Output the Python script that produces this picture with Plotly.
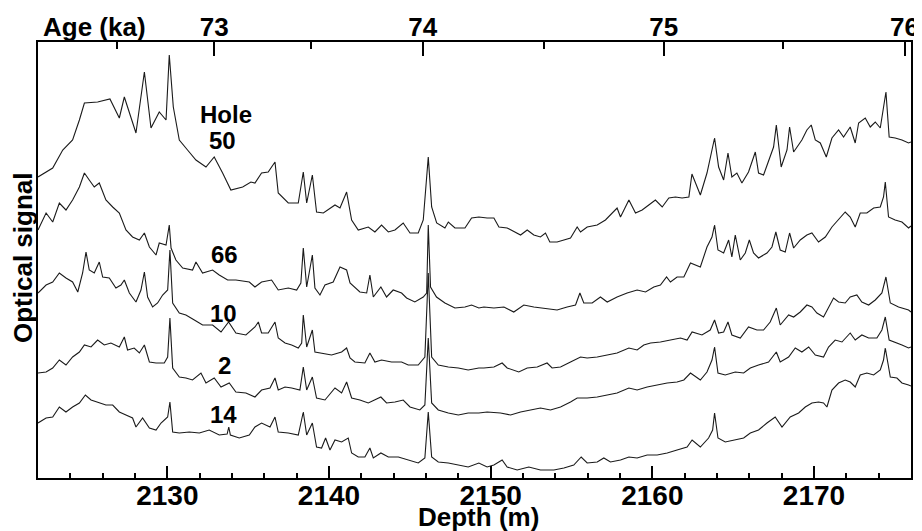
import plotly.graph_objects as go

# ---------------- data ----------------
# optical signal in arbitrary units (stacked, as displayed)
depth_50 = [2122.0, 2122.91, 2123.53, 2124.14, 2124.56, 2124.87, 2125.69, 2126.45, 2127.03, 2127.34,
            2128.06, 2128.58, 2128.99, 2129.50, 2129.92, 2130.12, 2130.37, 2130.74, 2131.25, 2131.77,
            2132.39, 2132.90, 2133.42, 2133.93, 2134.66, 2135.17, 2135.42, 2135.83, 2136.24, 2136.66,
            2136.86, 2137.48, 2138.10, 2138.41, 2138.62, 2138.97, 2139.23, 2139.65, 2140.37, 2140.68,
            2141.09, 2141.40, 2141.81, 2142.43, 2142.84, 2143.25, 2143.67, 2144.08, 2144.59, 2145.01,
            2145.52, 2145.83, 2146.14, 2146.35, 2146.66, 2147.17, 2147.38, 2147.79, 2148.41, 2148.82,
            2149.27, 2149.78, 2150.20, 2150.51, 2151.02, 2151.54, 2151.85, 2152.26, 2152.67, 2153.08,
            2153.39, 2153.66, 2154.11, 2154.53, 2154.94, 2155.35, 2155.56, 2155.97, 2156.59, 2157.10,
            2157.41, 2157.82, 2158.03, 2158.55, 2158.96, 2159.37, 2159.78, 2160.19, 2160.61, 2161.02,
            2161.43, 2161.84, 2162.26, 2162.45, 2162.97, 2163.38, 2163.85, 2164.10, 2164.41, 2164.68,
            2164.92, 2165.23, 2165.54, 2165.95, 2166.37, 2166.57, 2166.88, 2167.19, 2167.50, 2167.67,
            2167.97, 2168.33, 2168.49, 2168.74, 2169.25, 2169.56, 2169.83, 2170.08, 2170.39, 2170.76,
            2171.11, 2171.52, 2171.83, 2172.24, 2172.55, 2172.76, 2173.17, 2173.48, 2173.79, 2174.10,
            2174.30, 2174.45, 2174.65, 2175.02, 2175.44, 2175.85, 2176.0]
signal_50 = [301, 310, 328, 338, 358, 375, 376, 379, 360, 381,
             345, 406, 350, 366, 358, 423, 371, 338, 328, 318,
             311, 321, 305, 288, 291, 296, 295, 305, 306, 316,
             285, 275, 275, 306, 275, 303, 266, 265, 273, 270,
             286, 258, 248, 251, 246, 253, 246, 248, 255, 245,
             245, 258, 321, 271, 255, 250, 256, 250, 250, 260,
             261, 260, 260, 251, 250, 246, 243, 248, 243, 241,
             245, 236, 236, 238, 240, 251, 246, 251, 253, 258,
             263, 270, 261, 278, 265, 268, 273, 278, 271, 280,
             281, 280, 281, 304, 283, 305, 340, 311, 298, 325,
             301, 305, 295, 306, 326, 305, 303, 318, 331, 353,
             311, 328, 351, 326, 338, 348, 353, 338, 335, 321,
             340, 348, 341, 351, 335, 355, 360, 351, 356, 350,
             371, 386, 341, 340, 338, 335, 336]

depth_66 = [2122.0, 2122.5, 2122.91, 2123.32, 2123.73, 2124.14, 2124.56, 2124.87, 2125.17, 2125.48,
            2125.79, 2126.20, 2126.62, 2127.03, 2127.44, 2127.85, 2128.27, 2128.58, 2128.89, 2129.30,
            2129.50, 2129.92, 2130.12, 2130.23, 2130.53, 2130.95, 2131.56, 2131.77, 2132.18, 2132.80,
            2133.21, 2133.73, 2134.24, 2135.07, 2135.42, 2135.83, 2136.45, 2136.86, 2137.48, 2138.00,
            2138.26, 2138.41, 2138.62, 2138.97, 2139.13, 2139.44, 2139.75, 2140.26, 2140.68, 2141.09,
            2141.30, 2141.60, 2141.91, 2142.33, 2142.53, 2142.74, 2143.21, 2143.56, 2143.97, 2144.49,
            2144.80, 2145.31, 2145.83, 2146.04, 2146.14, 2146.28, 2146.65, 2147.17, 2147.79, 2148.41,
            2148.82, 2149.27, 2149.58, 2150.20, 2150.82, 2151.43, 2152.05, 2152.67, 2153.29, 2154.11,
            2154.73, 2155.25, 2155.52, 2155.76, 2156.28, 2156.79, 2157.21, 2157.82, 2158.44, 2159.06,
            2159.58, 2160.09, 2160.50, 2160.88, 2161.12, 2161.53, 2161.95, 2162.36, 2162.97, 2163.38,
            2163.69, 2163.85, 2164.06, 2164.41, 2164.72, 2164.92, 2165.13, 2165.44, 2165.75, 2166.00,
            2166.26, 2166.57, 2167.09, 2167.40, 2167.64, 2167.91, 2168.22, 2168.49, 2168.74, 2169.15,
            2169.56, 2169.87, 2170.28, 2170.70, 2171.11, 2171.52, 2171.93, 2172.24, 2172.55, 2172.86,
            2173.27, 2173.69, 2174.10, 2174.30, 2174.41, 2174.61, 2175.02, 2175.44, 2175.85, 2176.0]
signal_66 = [248, 265, 256, 275, 268, 278, 291, 305, 298, 291,
             295, 278, 271, 265, 248, 241, 238, 245, 231, 223,
             235, 233, 253, 230, 218, 210, 208, 216, 205, 208,
             203, 198, 198, 196, 191, 196, 198, 188, 190, 188,
             195, 230, 191, 223, 190, 183, 193, 196, 211, 208,
             195, 191, 186, 185, 203, 181, 191, 181, 188, 185,
             180, 176, 181, 185, 253, 191, 181, 175, 170, 171,
             173, 170, 171, 170, 171, 166, 173, 171, 170, 168,
             171, 173, 185, 175, 175, 181, 176, 181, 185, 188,
             186, 191, 193, 201, 196, 201, 201, 215, 211, 231,
             241, 253, 228, 225, 238, 221, 243, 218, 225, 238,
             225, 220, 225, 231, 246, 228, 226, 245, 230, 238,
             243, 245, 236, 241, 251, 258, 266, 261, 251, 265,
             265, 270, 271, 281, 296, 261, 258, 256, 250, 252]

depth_10 = [2122.0, 2122.5, 2122.91, 2123.32, 2123.73, 2124.14, 2124.46, 2124.76, 2124.97, 2125.17,
            2125.48, 2125.79, 2126.00, 2126.41, 2126.82, 2127.13, 2127.34, 2127.65, 2128.06, 2128.37,
            2128.58, 2128.78, 2129.09, 2129.40, 2129.71, 2130.02, 2130.16, 2130.33, 2130.74, 2131.15,
            2131.67, 2132.18, 2132.80, 2133.32, 2133.79, 2134.24, 2134.86, 2135.42, 2135.63, 2135.83,
            2136.24, 2136.66, 2136.86, 2137.28, 2137.69, 2138.10, 2138.31, 2138.41, 2138.62, 2138.97,
            2139.13, 2139.54, 2140.16, 2140.78, 2141.09, 2141.30, 2141.60, 2142.22, 2142.53, 2142.84,
            2143.25, 2143.87, 2144.49, 2144.90, 2145.52, 2145.93, 2146.14, 2146.35, 2146.76, 2147.38,
            2148.00, 2148.61, 2149.27, 2149.58, 2150.20, 2150.71, 2151.02, 2151.74, 2152.26, 2152.88,
            2153.49, 2153.80, 2154.32, 2154.94, 2155.56, 2155.97, 2156.59, 2157.21, 2157.82, 2158.55,
            2159.06, 2159.47, 2159.89, 2160.50, 2161.12, 2161.74, 2162.15, 2162.46, 2163.07, 2163.58,
            2163.85, 2164.10, 2164.41, 2164.68, 2164.92, 2165.44, 2165.95, 2166.47, 2166.88, 2167.29,
            2167.67, 2167.91, 2168.43, 2168.74, 2169.15, 2169.56, 2169.87, 2170.18, 2170.59, 2170.90,
            2171.21, 2171.52, 2171.93, 2172.24, 2172.65, 2172.96, 2173.38, 2173.79, 2174.20, 2174.45,
            2174.72, 2175.23, 2175.85, 2176.0]
signal_10 = [185, 193, 196, 205, 200, 196, 186, 205, 226, 208,
             205, 216, 201, 200, 190, 193, 198, 185, 176, 188,
             206, 181, 171, 175, 183, 188, 228, 175, 165, 163,
             158, 153, 153, 146, 156, 145, 143, 151, 156, 145,
             145, 156, 140, 135, 133, 130, 135, 163, 131, 148,
             126, 125, 123, 126, 130, 120, 116, 115, 125, 116,
             118, 116, 116, 113, 113, 121, 205, 121, 113, 111,
             110, 108, 110, 110, 111, 115, 110, 106, 110, 111,
             115, 110, 111, 116, 121, 120, 121, 123, 125, 130,
             128, 133, 135, 136, 138, 140, 138, 146, 143, 148,
             158, 145, 146, 156, 143, 140, 151, 148, 148, 156,
             170, 153, 163, 161, 166, 173, 171, 165, 161, 171,
             180, 176, 175, 181, 183, 176, 173, 178, 185, 201,
             175, 171, 168, 166]

depth_2 = [2122.0, 2122.5, 2122.91, 2123.32, 2123.73, 2124.14, 2124.56, 2124.87, 2125.28, 2125.69,
           2126.10, 2126.51, 2127.03, 2127.34, 2127.54, 2127.95, 2128.27, 2128.58, 2128.89, 2129.30,
           2129.81, 2130.02, 2130.16, 2130.33, 2130.74, 2131.15, 2131.56, 2132.08, 2132.39, 2132.90,
           2133.32, 2133.83, 2134.24, 2134.86, 2135.42, 2135.83, 2136.35, 2136.66, 2136.86, 2137.28,
           2137.69, 2138.20, 2138.41, 2138.62, 2138.97, 2139.23, 2139.75, 2140.37, 2140.78, 2141.09,
           2141.40, 2141.91, 2142.43, 2143.21, 2143.56, 2144.08, 2144.59, 2145.01, 2145.62, 2145.93,
           2146.14, 2146.35, 2146.76, 2147.38, 2148.00, 2148.61, 2149.27, 2149.78, 2150.61, 2151.23,
           2151.85, 2152.46, 2153.08, 2153.70, 2154.32, 2154.94, 2155.35, 2155.97, 2156.59, 2157.21,
           2157.82, 2158.55, 2159.06, 2159.68, 2160.30, 2160.92, 2161.53, 2161.95, 2162.36, 2162.97,
           2163.38, 2163.69, 2163.85, 2164.06, 2164.51, 2165.13, 2165.65, 2166.06, 2166.57, 2167.19,
           2167.67, 2167.91, 2168.43, 2168.84, 2169.25, 2169.67, 2170.08, 2170.59, 2170.90, 2171.31,
           2171.73, 2172.24, 2172.55, 2172.96, 2173.38, 2173.89, 2174.20, 2174.41, 2174.65, 2175.02,
           2175.44, 2175.85, 2176.0]
signal_2 = [105, 106, 110, 118, 113, 121, 126, 133, 131, 138,
            133, 135, 131, 141, 128, 130, 125, 133, 116, 115,
            115, 121, 160, 110, 101, 100, 98, 105, 95, 100,
            91, 95, 86, 85, 81, 88, 90, 100, 88, 91,
            90, 88, 111, 88, 101, 80, 78, 90, 85, 96,
            80, 78, 75, 81, 75, 76, 78, 71, 68, 73,
            140, 75, 68, 65, 63, 65, 65, 66, 65, 63,
            66, 68, 70, 68, 71, 76, 80, 80, 81, 83,
            85, 90, 88, 91, 93, 95, 96, 98, 105, 98,
            106, 118, 131, 105, 103, 106, 105, 110, 113, 116,
            126, 116, 121, 130, 126, 131, 123, 121, 131, 138,
            136, 145, 138, 143, 140, 140, 148, 161, 138, 136,
            133, 130, 131]

depth_14 = [2122.0, 2122.5, 2122.91, 2123.32, 2123.73, 2124.14, 2124.56, 2124.93, 2125.28, 2125.69,
            2126.20, 2126.62, 2127.03, 2127.44, 2127.85, 2128.06, 2128.47, 2128.89, 2129.30, 2129.61,
            2130.02, 2130.16, 2130.33, 2130.74, 2131.36, 2131.98, 2132.59, 2133.21, 2133.70, 2133.80,
            2133.90, 2134.45, 2135.07, 2135.42, 2135.83, 2136.35, 2136.66, 2136.86, 2137.48, 2138.10,
            2138.41, 2138.62, 2138.97, 2139.23, 2139.54, 2139.79, 2140.06, 2140.37, 2140.78, 2141.19,
            2141.40, 2141.81, 2142.22, 2142.53, 2142.74, 2143.21, 2143.67, 2144.29, 2144.90, 2145.52,
            2145.93, 2146.14, 2146.35, 2146.76, 2147.38, 2148.00, 2148.61, 2149.27, 2149.78, 2150.20,
            2150.71, 2151.02, 2151.64, 2152.36, 2153.08, 2153.91, 2154.53, 2155.14, 2155.60, 2155.97,
            2156.59, 2157.00, 2157.41, 2158.03, 2158.55, 2159.06, 2159.68, 2160.30, 2160.92, 2161.53,
            2162.15, 2162.46, 2162.97, 2163.48, 2163.73, 2163.85, 2164.06, 2164.51, 2165.13, 2165.65,
            2166.06, 2166.57, 2167.09, 2167.60, 2168.02, 2168.53, 2169.05, 2169.46, 2169.87, 2170.28,
            2170.59, 2170.80, 2171.11, 2171.52, 2171.93, 2172.24, 2172.55, 2172.86, 2173.27, 2173.69,
            2174.10, 2174.30, 2174.41, 2174.72, 2175.13, 2175.44, 2175.85, 2176.0]
signal_14 = [55, 60, 61, 71, 66, 71, 75, 83, 78, 76,
             73, 73, 66, 63, 60, 51, 60, 50, 48, 55,
             61, 76, 46, 45, 46, 45, 48, 43, 44, 51,
             43, 40, 43, 51, 55, 51, 61, 46, 45, 43,
             66, 43, 55, 31, 30, 40, 28, 38, 36, 40,
             25, 21, 21, 30, 20, 25, 21, 21, 18, 15,
             20, 66, 21, 16, 15, 13, 11, 15, 11, 13,
             18, 11, 8, 11, 8, 8, 10, 13, 21, 15,
             16, 20, 16, 18, 21, 20, 23, 23, 25, 28,
             31, 38, 31, 40, 48, 65, 40, 36, 38, 40,
             45, 48, 55, 61, 51, 61, 65, 71, 75, 76,
             75, 71, 88, 95, 98, 96, 91, 103, 105, 103,
             108, 118, 130, 101, 100, 95, 93, 92]

hole_names = ["50", "66", "10", "2", "14"]

# depth axis ticks
depth_major = [2130, 2140, 2150, 2160, 2170]
depth_minor = [2124, 2126, 2128, 2132, 2134, 2136, 2138, 2142, 2144, 2146, 2148,
               2152, 2154, 2156, 2158, 2162, 2164, 2166, 2168, 2172, 2174]

# age model tie points (age in ka at depth in m) for the top axis
age_major = ["73", "74", "75", "76"]
age_major_depth = [2132.9, 2145.8, 2160.7, 2175.6]
age_minor_depth = [2126.9, 2138.9, 2153.3, 2168.1]

# ---------------- figure ----------------
# the page body has an 8 px margin: the figure is sized/placed to compensate
OFF = 8
PAGE_W, PAGE_H = 922, 531
W, H = PAGE_W - OFF, PAGE_H - OFF
PL, PR, PT, PB = 38, 911, 42, 478          # plot area in page pixels
L, R, T, B = PL - OFF, PAGE_W - PR, PT - OFF, PAGE_H - PB
PW, PH = PR - PL, PB - PT
FONT = "Liberation Sans, Arial, Helvetica, sans-serif"
LINE_COLOR = "#1a1a1a"

fig = go.Figure()
for d, s, name in [(depth_50, signal_50, "50"), (depth_66, signal_66, "66"),
                   (depth_10, signal_10, "10"), (depth_2, signal_2, "2"),
                   (depth_14, signal_14, "14")]:
    fig.add_trace(go.Scatter(x=d, y=s, mode="lines", name="Hole " + name,
                             line=dict(color=LINE_COLOR, width=1.1),
                             showlegend=False, hoverinfo="skip"))

# invisible trace to activate the top (age) axis
fig.add_trace(go.Scatter(x=[2122, 2176], y=[0, 0], xaxis="x2", mode="markers",
                         marker=dict(opacity=0), showlegend=False, hoverinfo="skip"))


def px(xp):
    return (xp - PL) / PW


def py(yp):
    return (PB - yp) / PH


annotations = [
    dict(text="Age (ka)", x=px(94), y=py(27)),
    dict(text="Depth (m)", x=px(478), y=py(517)),
    dict(text="Optical signal", x=px(23), y=py(258), textangle=-90),
    dict(text="Hole", x=px(226), y=py(114), size=24),
    dict(text="50", x=px(222), y=py(140), size=24),
    dict(text="66", x=px(224), y=py(254), size=24),
    dict(text="10", x=px(223), y=py(313), size=24),
    dict(text="2", x=px(224), y=py(365), size=24),
    dict(text="14", x=px(223), y=py(414), size=24),
]
fig.update_layout(annotations=[
    dict(text=a["text"], x=a["x"], y=a["y"], xref="paper", yref="paper",
         xanchor="center", yanchor="middle", showarrow=False,
         textangle=a.get("textangle", 0),
         font=dict(family=FONT, size=a.get("size", 26), color="black", weight="bold"))
    for a in annotations
])

fig.update_layout(
    width=W, height=H,
    margin=dict(l=L, r=R, t=T, b=B, pad=0, autoexpand=False),
    paper_bgcolor="white", plot_bgcolor="white",
    xaxis=dict(range=[2122, 2176], showgrid=False, zeroline=False, automargin=False,
               showline=True, linecolor="black", linewidth=2,
               ticks="inside", tickmode="array", tickvals=depth_major,
               ticktext=[str(v) for v in depth_major],
               ticklen=12, tickwidth=2, tickcolor="black", ticklabelstandoff=-9,
               minor=dict(tickmode="array", tickvals=depth_minor, ticks="inside",
                          ticklen=5, tickwidth=2, tickcolor="black", showgrid=False),
               tickfont=dict(family=FONT, size=28, color="black", weight="bold")),
    xaxis2=dict(range=[2122, 2176], overlaying="x", side="top", anchor="y",
                showgrid=False, zeroline=False, automargin=False,
                showline=True, linecolor="black", linewidth=2,
                ticks="inside", tickmode="array", tickvals=age_major_depth,
                ticktext=age_major, ticklen=14, tickwidth=2, tickcolor="black",
                ticklabelstandoff=-6, ticklabeloverflow="allow",
                minor=dict(tickmode="array", tickvals=age_minor_depth, ticks="inside",
                           ticklen=7, tickwidth=2, tickcolor="black", showgrid=False),
                tickfont=dict(family=FONT, size=26, color="black", weight="bold")),
    yaxis=dict(range=[0, PH], showgrid=False, zeroline=False, automargin=False,
               showline=True, linecolor="black", linewidth=2, mirror=True,
               showticklabels=False, ticks=""),
)

fig.write_html("out.html")
